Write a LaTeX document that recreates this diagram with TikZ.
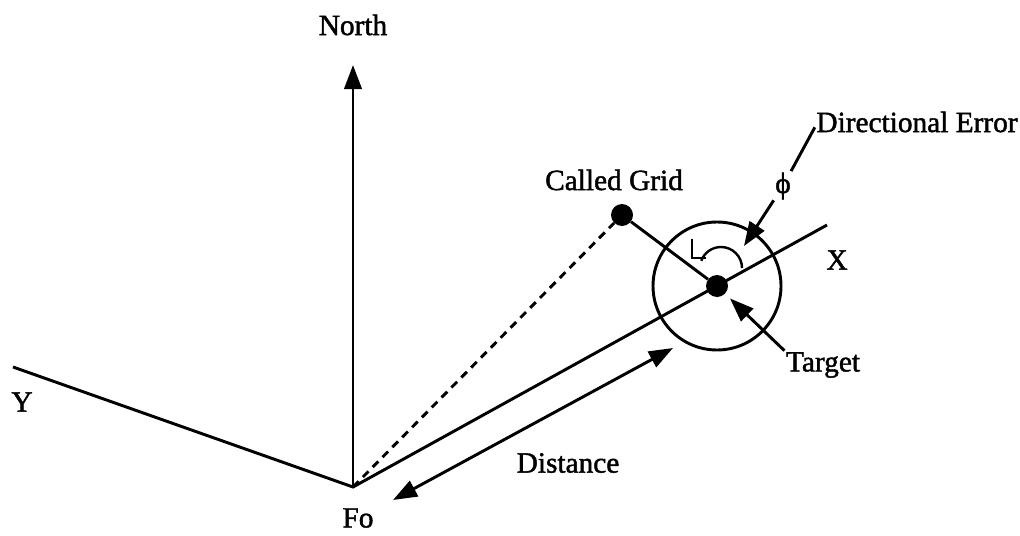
\documentclass[tikz,border=0pt]{standalone}
\usepackage{fontspec}
\setmainfont{Liberation Serif}[BoldFont=Liberation Serif, BoldFeatures={FakeBold=1.5}]
\usetikzlibrary{arrows.meta,positioning}
\tikzset{
  axisline/.style={black, line width=2.2pt},
  pointer/.style={black, line width=2.2pt, -{Triangle[length=18pt,width=13pt]}},
  twoway/.style={black, line width=2.2pt, {Triangle[length=18pt,width=13pt]}-{Triangle[length=18pt,width=13pt]}},
  guide/.style={black, line width=2.2pt, dash pattern=on 6pt off 4.5pt},
  point/.style={circle, fill=black, inner sep=0pt, minimum size=16.5pt},
  turn/.style={black, line width=1.8pt},
  labeltext/.style={font=\fontsize{22}{26}\selectfont\bfseries, inner sep=1pt}
}

\begin{document}
\begin{tikzpicture}[x=0.75pt,y=-0.75pt]
  \useasboundingbox (0,0) rectangle (1020,535);
  % frame
  \coordinate (fo) at (353,487);
  \coordinate (yend) at (13,367);
  \coordinate (xend) at (827,225);
  \coordinate (northend) at (353,65);
  \node[point] (grid) at (622,215) {};
  \node[point] (target) at (717,286) {};
  \coordinate (diststart) at (393,500);
  \coordinate (distend) at (673,348);
  \coordinate (errtip) at (744,246);
  % labels
  \node[labeltext] (northlabel) at (353,25) {North};
  \node[labeltext] (ylabel) at (22,402) {Y};
  \node[labeltext] (xlabel) at (837,260) {X};
  \node[labeltext] (folabel) at (358,518) {Fo};
  \node[labeltext] (gridlabel) at (614,180) {Called Grid};
  \node[labeltext] (distlabel) at (568,463) {Distance};
  \node[labeltext] (targetlabel) at (823,365) {Target};
  \node[labeltext] (errlabel) at (917,122) {Directional Error};
  \node[labeltext] (phi) at (783,186) {ϕ};
  % lines
  \draw[axisline] (yend) -- (fo) -- (xend);
  \draw[pointer] (fo) -- (northend);
  \draw[guide] (fo) -- (grid);
  \draw[axisline] (grid) -- (target);
  \draw[axisline] (target.center) circle[radius=48pt];
  \draw[twoway] (diststart) -- (distend);
  \draw[pointer, shorten >=5pt] (targetlabel.north west) -- (target);
  \draw[axisline] ([yshift=-4pt]errlabel.west) -- (phi);
  \draw[pointer] (phi) -- (errtip);
  % turn sign
  \draw[turn] (742,268) arc[start angle=0, end angle=160, radius=15.75pt];
  \draw[turn] (692,239) -- (692,258) -- (706,258);
\end{tikzpicture}
\end{document}
